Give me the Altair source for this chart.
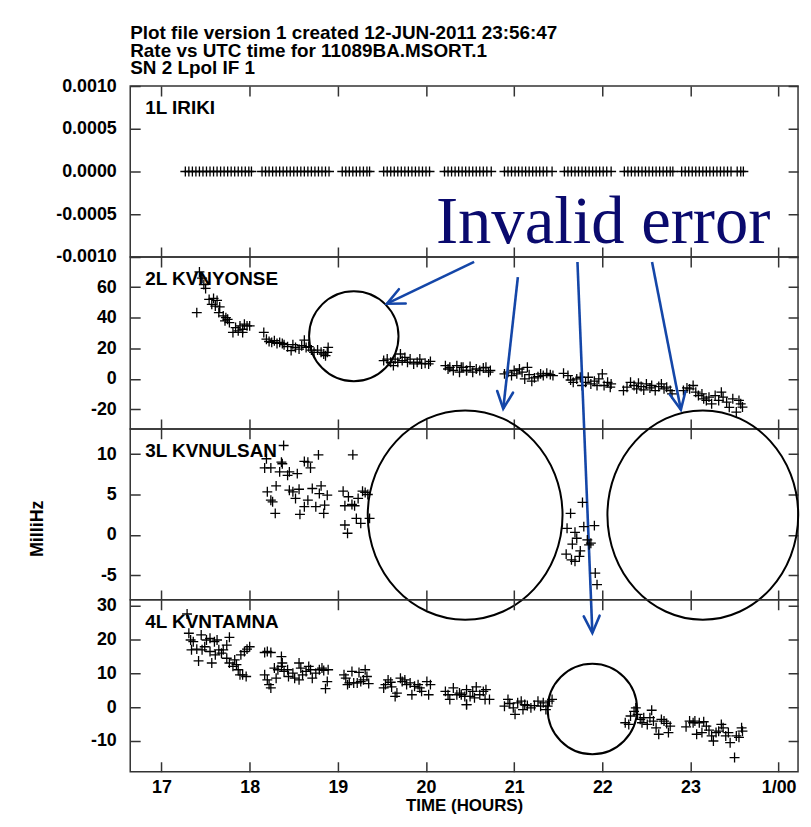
import altair as alt
import pandas as pd

# ---------------- data ----------------
x_domain = [16.645, 24.22]
x_tick_values = [17, 18, 19, 20, 21, 22, 23, 24]
x_tick_labels = ["17", "18", "19", "20", "21", "22", "23", "1/00"]

title_lines = ["Plot file version 1  created 12-JUN-2011 23:56:47",
               "Rate vs UTC time for 11089BA.MSORT.1",
               "SN 2  Lpol  IF 1"]
panel_names = ["1L IRIKI", "2L KVNYONSE", "3L KVNULSAN", "4L KVNTAMNA"]
x_titles = [None, None, None, "TIME (HOURS)"]
y_titles = [None, None, "MilliHz", None]
y_domains = [[-0.001, 0.001], [-32.7, 79.8], [-8.02, 13.11], [-19.1, 31.8]]
y_ticks = [[-0.001, -0.0005, 0.0, 0.0005, 0.001], [-20, 0, 20, 40, 60],
           [-5, 0, 5, 10], [-10, 0, 10, 20, 30]]
y_formats = [".4f", "d", "d", "d"]
name_t = [16.814, 16.814, 16.814, 16.814]
name_v = [0.000674, 61.4, 9.67, 23.4]

# 1L IRIKI : all rates 0.0000
p1_time = [17.27, 17.31, 17.35, 17.39, 17.43, 17.47, 17.51, 17.55, 17.59, 17.63, 17.67, 17.71, 17.75, 17.79,
           17.83, 17.87, 17.91, 17.95, 17.99, 18.02,
           18.14, 18.18, 18.22, 18.26, 18.30, 18.34, 18.38, 18.42, 18.46, 18.50, 18.54, 18.58, 18.62, 18.66,
           18.70, 18.74, 18.78, 18.82, 18.86, 18.90,
           19.05, 19.09, 19.13, 19.17, 19.21, 19.25, 19.29, 19.33, 19.36,
           19.52, 19.56, 19.60, 19.64, 19.68, 19.72, 19.76, 19.80, 19.84, 19.88, 19.92, 19.96, 20.00, 20.04,
           20.21, 20.25, 20.29, 20.33, 20.37, 20.41, 20.45, 20.49, 20.53, 20.57, 20.61, 20.65, 20.69, 20.74,
           20.89, 20.93, 20.97, 21.01, 21.05, 21.09, 21.13, 21.17, 21.21, 21.25, 21.29, 21.33, 21.37, 21.43,
           21.57, 21.61, 21.65, 21.69, 21.73, 21.77, 21.81, 21.85, 21.89, 21.93, 21.97, 22.01, 22.05, 22.10,
           22.25, 22.29, 22.33, 22.37, 22.41, 22.45, 22.49, 22.53, 22.57, 22.61, 22.65, 22.69, 22.73, 22.77, 22.80,
           22.90, 22.94, 22.98, 23.02, 23.06, 23.10, 23.14, 23.18, 23.22, 23.26, 23.30, 23.34, 23.38, 23.42,
           23.46, 23.53, 23.57, 23.60]
p1_rate = [0.0, 0.0, 0.0, 0.0, 0.0, 0.0, 0.0, 0.0, 0.0, 0.0, 0.0, 0.0, 0.0, 0.0, 0.0, 0.0, 0.0, 0.0, 0.0, 0.0,
           0.0, 0.0, 0.0, 0.0, 0.0, 0.0, 0.0, 0.0, 0.0, 0.0, 0.0, 0.0, 0.0, 0.0, 0.0, 0.0, 0.0, 0.0, 0.0, 0.0,
           0.0, 0.0, 0.0, 0.0, 0.0, 0.0, 0.0, 0.0, 0.0,
           0.0, 0.0, 0.0, 0.0, 0.0, 0.0, 0.0, 0.0, 0.0, 0.0, 0.0, 0.0, 0.0, 0.0,
           0.0, 0.0, 0.0, 0.0, 0.0, 0.0, 0.0, 0.0, 0.0, 0.0, 0.0, 0.0, 0.0, 0.0,
           0.0, 0.0, 0.0, 0.0, 0.0, 0.0, 0.0, 0.0, 0.0, 0.0, 0.0, 0.0, 0.0, 0.0,
           0.0, 0.0, 0.0, 0.0, 0.0, 0.0, 0.0, 0.0, 0.0, 0.0, 0.0, 0.0, 0.0, 0.0,
           0.0, 0.0, 0.0, 0.0, 0.0, 0.0, 0.0, 0.0, 0.0, 0.0, 0.0, 0.0, 0.0, 0.0, 0.0,
           0.0, 0.0, 0.0, 0.0, 0.0, 0.0, 0.0, 0.0, 0.0, 0.0, 0.0, 0.0, 0.0, 0.0, 0.0, 0.0, 0.0, 0.0]

# 2L KVNYONSE
p2_time = [17.40, 17.43, 17.46, 17.48, 17.50, 17.54, 17.57, 17.59, 17.63, 17.61, 17.66, 17.65, 17.70, 17.73,
           17.75, 17.72, 17.77, 17.81, 17.84, 17.87, 17.89, 17.92, 17.94, 17.97, 18.00, 17.92,
           18.16, 18.19, 18.22, 18.25, 18.28, 18.31, 18.34, 18.37, 18.39, 18.43, 18.47, 18.49, 18.52, 18.56,
           18.59, 18.62, 18.64, 18.67, 18.70, 18.73, 18.77, 18.81, 18.84, 18.86, 18.89, 18.88,
           19.52, 19.56, 19.60, 19.63, 19.65, 19.68, 19.71, 19.73, 19.76, 19.79, 19.82, 19.86, 19.90, 19.93,
           19.95, 19.99, 20.03, 20.05,
           20.22, 20.25, 20.27, 20.31, 20.35, 20.38, 20.42, 20.46, 20.40, 20.46, 20.50, 20.53, 20.57, 20.61,
           20.65, 20.68, 20.71, 20.73,
           20.89, 20.93, 20.97, 21.00, 21.03, 21.06, 21.09, 21.12, 21.15, 21.17, 21.20, 21.23, 21.27, 21.30,
           21.33, 21.37, 21.41, 21.44,
           21.56, 21.61, 21.64, 21.67, 21.71, 21.75, 21.77, 21.81, 21.84, 21.87, 21.91, 21.94, 21.96, 22.00,
           22.02, 22.06, 22.09, 22.10,
           22.24, 22.28, 22.32, 22.36, 22.39, 22.41, 22.44, 22.47, 22.50, 22.54, 22.56, 22.60, 22.64, 22.67,
           22.70, 22.73, 22.77, 22.79,
           22.92, 22.96, 22.99, 23.03, 23.06, 23.09, 23.13, 23.15, 23.18, 23.21, 23.24, 23.28, 23.32, 23.35,
           23.37, 23.41, 23.44, 23.48, 23.52, 23.55, 23.57, 23.59]
p2_rate = [43.4, 70.0, 66.0, 61.8, 59.2, 52.0, 48.8, 52.7, 51.4, 47.7, 47.1, 43.4, 41.2, 40.1,
           39.0, 38.0, 36.9, 30.4, 33.6, 31.5, 34.7, 32.5, 35.8, 34.7, 34.7, 30.4,
           30.4, 26.0, 24.5, 23.9, 25.0, 23.2, 23.9, 23.2, 22.4, 21.1, 18.5, 22.4, 20.6, 19.5,
           21.7, 25.4, 20.6, 21.1, 18.9, 17.4, 18.9, 17.4, 16.3, 15.2, 20.6, 17.4,
           12.0, 13.0, 10.9, 8.7, 13.0, 10.9, 16.3, 12.0, 14.1, 10.9, 13.0, 9.8, 10.9, 13.0,
           9.8, 10.2, 9.8, 11.5,
           8.7, 6.5, 7.6, 5.5, 8.7, 4.4, 7.6, 5.5, 7.6, 5.5, 8.1, 4.4, 6.5, 5.5,
           7.2, 7.6, 4.4, 5.5,
           3.3, 4.4, 2.2, 5.5, 3.3, 6.5, 4.4, 0.0, 7.6, 2.8, -1.5, 0.7, 1.5, 3.3,
           2.2, 3.7, 2.8, 2.2,
           3.7, 2.2, -0.7, -2.2, 0.0, 1.1, -4.3, -2.2, 1.1, -3.3, -1.5, -4.3, 0.0, 3.3,
           -4.3, -2.2, -5.4, -3.3,
           -7.6, -5.4, -2.2, -4.3, -6.5, -2.8, -5.0, -7.2, -3.3, -5.9, -4.3, -7.6, -5.0, -3.3,
           -6.5, -5.4, -7.6, -9.8,
           -7.6, -5.9, -6.5, -4.3, -8.7, -10.9, -9.8, -13.0, -14.1, -11.9, -16.3, -10.9, -14.1, -8.7,
           -11.9, -15.2, -18.6, -13.0, -21.7, -14.1, -16.3, -18.4]

# 3L KVNULSAN
p3_time = [18.385, 18.19, 18.17, 18.24, 18.36, 18.37, 18.34, 18.43, 18.45, 18.54, 18.62, 18.66, 18.69, 18.78,
           18.30, 18.20, 18.24, 18.26, 18.29, 18.45, 18.49, 18.56, 18.52, 18.66, 18.62, 18.57, 18.71, 18.81,
           18.79, 18.88, 18.75, 18.85, 18.84,
           19.17, 19.06, 19.12, 19.08, 19.16, 19.19, 19.23, 19.28, 19.31, 19.34, 19.08, 19.11, 19.21, 19.26, 19.36,
           21.775, 21.64, 21.60, 21.69, 21.79, 21.91, 21.71, 21.66, 21.83, 21.87, 21.85, 21.75, 21.59, 21.65,
           21.69, 21.74, 21.92, 21.94]
p3_rate = [11.06, 9.42, 8.28, 8.28, 9.0, 8.8, 7.8, 7.37, 7.8, 7.58, 9.09, 9.0, 8.28, 9.9,
           6.07, 5.33, 4.30, 4.1, 2.67, 5.53, 5.33, 5.65, 4.51, 4.3, 3.49, 2.54, 5.74, 6.07,
           5.12, 4.91, 3.49, 3.69, 2.67,
           9.91, 5.41, 4.72, 3.61, 3.77, 3.61, 4.51, 5.41, 5.25, 5.0, 1.23, 0.21, 2.05, 1.44, 2.05,
           4.02, 2.67, 0.82, 0.33, 1.03, 1.15, -0.41, -1.14, -0.61, -1.02, -1.23, -1.97, -2.37, -3.07,
           -3.27, -2.65, -4.71, -6.14]

# 4L KVNTAMNA
p4_time = [17.29, 17.31, 17.33, 17.36, 17.34, 17.42, 17.40, 17.45, 17.46, 17.49, 17.51, 17.55, 17.57, 17.55,
           17.60, 17.63, 17.65, 17.61, 17.68, 17.70, 17.74, 17.77, 17.74, 17.77, 17.81, 17.83, 17.85, 17.89,
           17.92, 17.96, 17.90, 17.94, 17.97, 18.00, 17.87,
           18.17, 18.20, 18.24, 18.17, 18.20, 18.24, 18.22, 18.30, 18.28, 18.32, 18.36, 18.37, 18.36, 18.39,
           18.43, 18.44, 18.49, 18.51, 18.56, 18.58, 18.56, 18.60, 18.64, 18.67, 18.69, 18.71, 18.75, 18.79,
           18.82, 18.84, 18.89, 18.88, 18.86,
           19.07, 19.09, 19.13, 19.16, 19.18, 19.22, 19.24, 19.26, 19.29, 19.31, 19.33, 19.35, 19.11,
           19.52, 19.54, 19.57, 19.60, 19.61, 19.65, 19.67, 19.71, 19.73, 19.76, 19.78, 19.82, 19.84, 19.87,
           19.91, 19.93, 19.95, 20.01, 20.03, 20.05,
           20.22, 20.25, 20.27, 20.31, 20.35, 20.38, 20.44, 20.46, 20.40, 20.46, 20.50, 20.53, 20.57, 20.55,
           20.61, 20.65, 20.67, 20.68, 20.72, 20.46,
           20.89, 20.93, 20.95, 20.99, 21.01, 21.04, 21.08, 21.12, 21.15, 21.19, 21.23, 21.27, 21.30, 21.33,
           21.36, 21.40, 21.38, 21.43, 21.10,
           22.26, 22.30, 22.32, 22.36, 22.38, 22.40, 22.43, 22.45, 22.47, 22.51, 22.54, 22.56, 22.58, 22.61,
           22.64, 22.67, 22.70, 22.73, 22.75, 22.77,
           22.95, 22.99, 23.03, 23.05, 23.07, 23.10, 23.13, 23.15, 23.18, 23.21, 23.24, 23.26, 23.29, 23.32,
           23.35, 23.37, 23.40, 23.43, 23.45, 23.50, 23.52, 23.55, 23.58, 23.59]
p4_rate = [27.6, 21.9, 19.9, 19.4, 17.0, 13.7, 17.2, 21.4, 17.0, 17.9, 19.9, 20.4, 13.1, 16.5,
           19.4, 19.9, 17.0, 15.5, 16.0, 17.0, 18.4, 20.7, 14.5, 13.1, 12.1, 14.0, 12.6, 9.6,
           9.6, 9.1, 15.5, 16.5, 17.2, 17.9, 11.1,
           16.2, 16.5, 16.2, 9.6, 8.1, 5.7, 6.7, 8.6, 11.6, 11.1, 15.0, 13.1, 12.1, 10.6,
           11.1, 9.1, 10.1, 8.6, 13.1, 11.6, 8.1, 9.6, 10.6, 12.1, 11.1, 8.6, 10.1, 11.1,
           11.6, 10.9, 11.1, 7.6, 5.5,
           9.6, 8.6, 7.2, 10.6, 7.2, 7.2, 10.3, 7.6, 8.1, 11.1, 9.1, 7.0, 6.7,
           5.7, 6.7, 8.1, 7.4, 6.0, 3.2, 4.2, 8.6, 7.6, 8.1, 6.7, 7.2, 3.7, 6.2,
           6.7, 5.7, 4.7, 7.6, 3.7, 6.7,
           4.7, 3.7, 2.3, 5.7, 3.7, 4.2, 3.2, 0.8, 3.7, 5.2, 3.2, 4.7, 6.0, 2.8,
           3.7, 4.7, 2.3, 5.2, 2.3, 0.8,
           0.3, 2.3, 1.1, -0.2, -2.1, 1.3, 1.8, 0.8, 0.5, -0.2, 0.5, 1.8, 0.3, 1.3,
           -0.7, 1.8, 0.3, 2.3, -0.7,
           -4.6, -5.1, -2.6, -1.2, -0.2, -2.1, -3.6, -4.6, -3.1, -5.1, -3.1, -0.9, -4.1, -6.1,
           -8.0, -3.6, -4.1, -4.8, -7.5, -5.6,
           -5.8, -4.1, -4.6, -4.1, -8.0, -4.6, -7.5, -4.3, -5.6, -6.8, -8.5, -10.0, -7.5, -7.1,
           -5.1, -6.1, -8.5, -7.5, -10.5, -14.9, -8.5, -8.9, -6.1, -7.1]

# annotations (in the coordinates of the panel they are drawn in)
note_text = "Invalid error"
note_t = 22.01
note_v = -0.000837          # panel 1 units
arrow_t = [20.546, 21.042, 21.718, 22.564]     # panel 2 units
arrow_v = [76.55, 66.60, 76.55, 76.55]
arrow_t2 = [19.557, 20.876, 21.887, 22.891]
arrow_v2 = [49.24, -19.51, -166.24, -20.16]
arrow_angle = [64.5, 6.3, 357.7, 349.0]
ring_panel = [2, 3, 3, 4]
ring_t = [19.181, 20.444, 23.140, 21.887]
ring_v = [27.97, 2.457, 2.457, -0.53]
ring_rx = [45, 98, 96, 45]
ring_ry = [45.3, 105.3, 105.3, 45.5]

# ---------------- styling ----------------
FONT = "Liberation Sans"
W = 672
H = [172, 173, 172, 173]
FRAME = "#333333"
ARROW = "#1446a8"
NAVY = "#0a0a6e"
PLUS = "M -1 0 L 1 0 M 0 -1 L 0 1"
HEAD = "M -0.42 -0.9 L 0 0 L 0.42 -0.9"


def ellipse_path(k):
    c = 0.5523
    return (f"M 1 0 C 1 {c*k:.4f} {c:.4f} {k:.4f} 0 {k:.4f} "
            f"C {-c:.4f} {k:.4f} -1 {c*k:.4f} -1 0 "
            f"C -1 {-c*k:.4f} {-c:.4f} {-k:.4f} 0 {-k:.4f} "
            f"C {c:.4f} {-k:.4f} 1 {-c*k:.4f} 1 0 Z")


x_label_expr = "''"
for v, lab in zip(reversed(x_tick_values), reversed(x_tick_labels)):
    x_label_expr = f"datum.value == {v} ? '{lab}' : ({x_label_expr})"

panel_data = [
    pd.DataFrame({"t": p1_time, "v": p1_rate}),
    pd.DataFrame({"t": p2_time, "v": p2_rate}),
    pd.DataFrame({"t": p3_time, "v": p3_rate}),
    pd.DataFrame({"t": p4_time, "v": p4_rate}),
]


def make_panel(i):
    show_x = (i == 3)
    xt = x_titles[i]
    yt = y_titles[i]
    xaxis_kw = dict(values=x_tick_values, labels=show_x, labelExpr=x_label_expr, labelFont=FONT,
                    labelFontSize=18, labelFontWeight="bold", labelColor="black", labelPadding=7,
                    labelFlush=False, labelOverlap=False, ticks=False, domain=False, grid=True,
                    gridColor=FRAME, gridWidth=1.5, gridOpacity=1, gridDash=[10, H[i] - 20, 10, 3000],
                    titleFont=FONT, titleFontSize=17, titleFontWeight="bold", titleColor="black",
                    titlePadding=1)
    yaxis_kw = dict(values=y_ticks[i], format=y_formats[i], labelExpr="replace(datum.label, '\u2212', '-')",
                    labelFont=FONT, labelFontSize=18, labelFontWeight="bold", labelColor="black",
                    labelPadding=14, labelFlush=False, labelOverlap=False, labelBaseline="middle",
                    ticks=False, domain=False, grid=True, gridColor=FRAME, gridWidth=1.5, gridOpacity=1,
                    gridDash=[10, W - 20, 10, 3000],
                    titleFont=FONT, titleFontSize=18, titleFontWeight="bold", titleColor="black",
                    titleAngle=270, titleX=-93, titleY=100, titleAlign="center", titleBaseline="middle")
    x = alt.X("t:Q", scale=alt.Scale(domain=x_domain, nice=False, zero=False),
              axis=alt.Axis(**xaxis_kw), title=xt)
    y = alt.Y("v:Q", scale=alt.Scale(domain=y_domains[i], nice=False, zero=False),
              axis=alt.Axis(**yaxis_kw), title=yt)
    xs = alt.X("t:Q", title=xt)
    ys = alt.Y("v:Q", title=yt)

    pts = alt.Chart(panel_data[i]).mark_point(
        shape=PLUS, filled=False, stroke="black", strokeWidth=1.3, size=100, opacity=1
    ).encode(x=x, y=y)

    name = alt.Chart(pd.DataFrame({"t": [name_t[i]], "v": [name_v[i]], "name": [panel_names[i]]})).mark_text(
        align="left", baseline="alphabetic", font=FONT, fontSize=19, fontWeight="bold", color="black"
    ).encode(x=xs, y=ys, text="name:N")

    layers = [pts, name]

    if i == 0:
        layers.append(alt.Chart(pd.DataFrame({"t": [note_t], "v": [note_v], "s": [note_text]})).mark_text(
            align="center", baseline="alphabetic", font="Liberation Serif", fontSize=67, color=NAVY
        ).encode(x=xs, y=ys, text="s:N"))

    for k in range(len(ring_t)):
        if ring_panel[k] == i + 1:
            layers.append(alt.Chart(pd.DataFrame({"t": [ring_t[k]], "v": [ring_v[k]]})).mark_point(
                shape=ellipse_path(ring_ry[k] / ring_rx[k]), filled=False, stroke="black",
                strokeWidth=2, opacity=1, size=(2 * ring_rx[k]) ** 2
            ).encode(x=xs, y=ys))

    if i == 1:
        adf = pd.DataFrame({"t": arrow_t, "v": arrow_v, "t2": arrow_t2, "v2": arrow_v2, "a": arrow_angle})
        layers.append(alt.Chart(adf).mark_rule(color=ARROW, strokeWidth=2.6).encode(
            x=xs, y=ys, x2="t2:Q", y2="v2:Q"))
        layers.append(alt.Chart(adf).mark_point(
            shape=HEAD, filled=False, stroke=ARROW, strokeWidth=2.6, opacity=1, size=1444,
            strokeCap="round", strokeJoin="miter"
        ).encode(x=alt.X("t2:Q", title=xt), y=alt.Y("v2:Q", title=yt),
                 angle=alt.Angle("a:Q", scale=None)))

    props = dict(width=W, height=H[i])
    if i == 0:
        props["title"] = alt.Title(title_lines, anchor="start", frame="group", font=FONT, fontSize=19,
                                   fontWeight="bold", color="black", lineHeight=17.5, offset=-1)
    return alt.layer(*layers).properties(**props)


chart = alt.vconcat(*[make_panel(i) for i in range(4)], spacing=0, bounds="flush").resolve_scale(
    y="independent"
).properties(
    padding={"left": 20, "top": 13, "right": 0, "bottom": 0},
    background="white",
).configure_view(stroke=FRAME, strokeWidth=1.5)

chart.save("out.html", embed_options={"renderer": "svg", "actions": False})
